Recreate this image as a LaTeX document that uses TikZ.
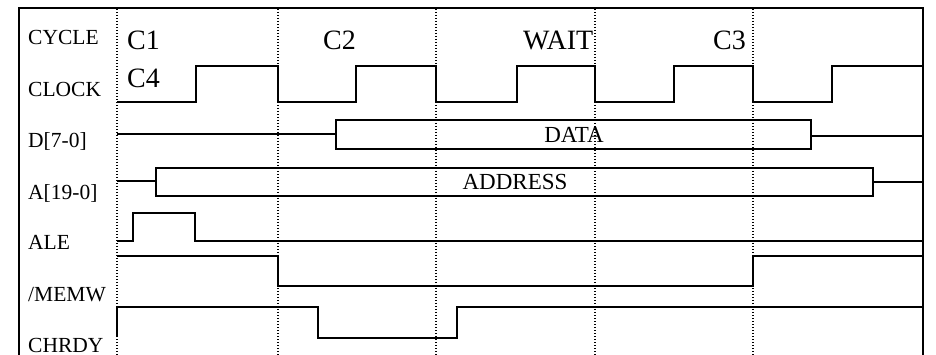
\documentclass[tikz,border=0pt]{standalone}
\usepackage{fontspec}
\setmainfont{Liberation Serif}
\begin{document}
\begin{tikzpicture}[x=1pt,y=-1pt,
  lbl/.style={anchor=base west,inner sep=0pt,font=\fontsize{21.5}{21.5}\selectfont},
  big/.style={anchor=base west,inner sep=0pt,font=\fontsize{28}{28}\selectfont},
  bustext/.style={anchor=base,inner sep=0pt,font=\fontsize{23}{23}\selectfont},
  wave/.style={line width=1.7pt,line join=miter},
  frame/.style={line width=2pt},
  gridline/.style={line width=1.3pt,dash pattern=on 1.2pt off 1.8pt}]
\useasboundingbox (0,0) rectangle (936,355);
\clip (0,0) rectangle (936,355);
\fill[white] (0,0) rectangle (936,355);
% frame
\draw[frame] (19,365) -- (19,8) -- (923,8) -- (923,365);
% dotted cycle boundaries
\foreach \x in {117,278,436,595,753}
  \draw[gridline] (\x,9) -- (\x,360);
% labels
\node[lbl] (lcycle) at (28,45) {CYCLE};
\node[lbl] (lclock) at (28,97) {CLOCK};
\node[lbl] (ldata) at (28,148) {D[7-0]};
\node[lbl] (laddr) at (28,200) {A[19-0]};
\node[lbl] (lale) at (28,250) {ALE};
\node[lbl] (lmemw) at (28,301) {/MEMW};
\node[lbl] (lchrdy) at (28,352) {CHRDY};
% cycle names
\node[big] (c1) at (127,50) {C1};
\node[big] (c4) at (127,88) {C4};
\node[big] (c2) at (323,50) {C2};
\node[big] (cw) at (523,50) {WAIT};
\node[big] (c3) at (713,50) {C3};
% CLOCK
\draw[wave] (117,102) -- (196,102) -- (196,66) -- (278,66) -- (278,102)
  -- (356,102) -- (356,66) -- (436,66) -- (436,102)
  -- (517,102) -- (517,66) -- (595,66) -- (595,102)
  -- (674,102) -- (674,66) -- (753,66) -- (753,102)
  -- (832,102) -- (832,66) -- (923,66);
% D[7-0]
\draw[wave] (117,134) -- (336,134);
\draw[wave] (336,120) rectangle (811,149);
\draw[wave] (811,136) -- (923,136);
\node[bustext] (tdata) at (574,143) {DATA};
% A[19-0]
\draw[wave] (117,181) -- (156,181);
\draw[wave] (156,168) rectangle (873,196);
\draw[wave] (873,182) -- (923,182);
\node[bustext] (taddr) at (515,190) {ADDRESS};
% ALE
\draw[wave] (117,241) -- (133,241) -- (133,213) -- (195,213) -- (195,241) -- (923,241);
% /MEMW
\draw[wave] (117,256) -- (278,256) -- (278,286) -- (753,286) -- (753,256) -- (923,256);
% CHRDY
\draw[wave] (117,337) -- (117,307) -- (318,307) -- (318,338) -- (457,338) -- (457,307) -- (923,307);
\end{tikzpicture}
\end{document}
